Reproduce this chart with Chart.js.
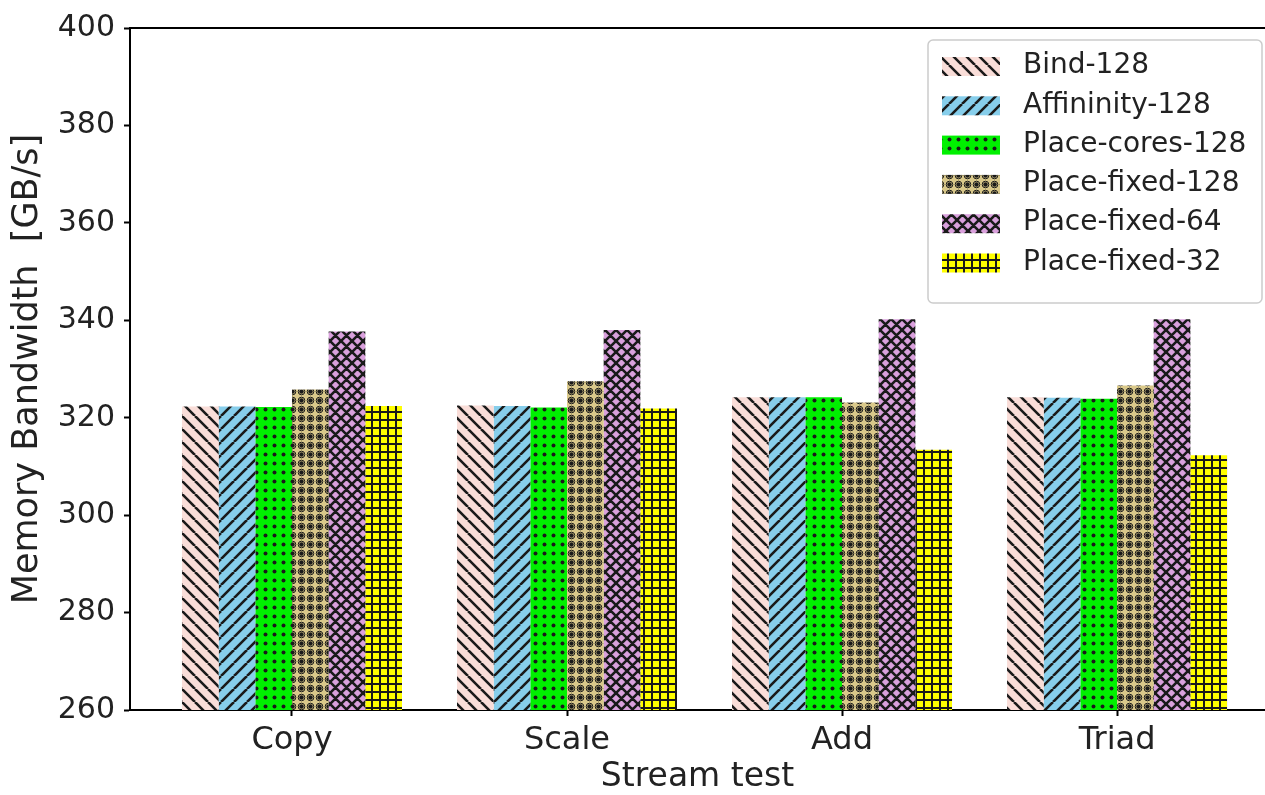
<!DOCTYPE html>
<html>
<head>
<meta charset="utf-8">
<script src="https://cdn.jsdelivr.net/npm/chart.js@4.4.1/dist/chart.umd.min.js"></script>
<style>
  html, body { margin: 0; padding: 0; background: #fff; overflow: hidden; }
  #wrap { width: 1265px; height: 795px; }
</style>
</head>
<body>
<div id="wrap"><canvas id="chart" width="1265" height="795"></canvas></div>
<script>
// ── data ───────────────────────────────────────────────────────
const categories = ['Copy', 'Scale', 'Add', 'Triad'];
const seriesLabels = ['Bind-128', 'Affininity-128', 'Place-cores-128', 'Place-fixed-128', 'Place-fixed-64', 'Place-fixed-32'];
const bind128 = [322.3, 322.5, 324.2, 324.2];
const affinity128 = [322.3, 322.4, 324.2, 324.1];
const placeCores128 = [322.2, 322.1, 324.2, 323.9];
const placeFixed128 = [325.8, 327.5, 323.1, 326.6];
const placeFixed64 = [337.7, 338.0, 340.2, 340.2];
const placeFixed32 = [322.4, 321.9, 313.4, 312.3];
const yTicks = [260, 280, 300, 320, 340, 360, 380, 400];

const FONT = 'DejaVu Sans';
const TEXT = '#222';

const canvas = document.getElementById('chart');
const ctx = canvas.getContext('2d');

// Build a repeating hatch fill like matplotlib's hatch styles
function makeHatch(bg, kind) {
  const sizes = { back: 13, fwd: 13, dot: 9, ring: 9, cross: 11, plus: 8 };
  const s = sizes[kind];
  const tile = document.createElement('canvas');
  tile.width = s;
  tile.height = s;
  const t = tile.getContext('2d');
  t.fillStyle = bg;
  t.fillRect(0, 0, s, s);
  t.strokeStyle = '#1a1a1a';
  t.fillStyle = '#1a1a1a';

  if (kind === 'back' || kind === 'fwd' || kind === 'cross') {
    t.lineWidth = kind === 'cross' ? 2.6 : 2.6;
    t.beginPath();
    [-s, 0, s].forEach((k) => {
      if (kind !== 'fwd') { t.moveTo(k, 0); t.lineTo(k + s, s); }
      if (kind !== 'back') { t.moveTo(k, s); t.lineTo(k + s, 0); }
    });
    t.stroke();
  } else if (kind === 'dot') {
    t.beginPath();
    t.arc(s / 2, s / 2, 2, 0, Math.PI * 2);
    t.fill();
  } else if (kind === 'ring') {
    t.lineWidth = 1;
    t.beginPath();
    t.arc(s / 2, s / 2, 3.3, 0, Math.PI * 2);
    t.stroke();
    t.beginPath();
    t.arc(s / 2, s / 2, 2.2, 0, Math.PI * 2);
    t.fill();
  } else if (kind === 'plus') {
    t.lineWidth = 2;
    t.beginPath();
    t.moveTo(0, s / 2); t.lineTo(s, s / 2);
    t.moveTo(s / 2, 0); t.lineTo(s / 2, s);
    t.stroke();
  }
  return ctx.createPattern(tile, 'repeat');
}

const fills = [
  makeHatch('#f9ddd8', 'back'),
  makeHatch('#87ceeb', 'fwd'),
  makeHatch('#00f000', 'dot'),
  makeHatch('#d9c88a', 'ring'),
  makeHatch('#d9a0dc', 'cross'),
  makeHatch('#ffff00', 'plus'),
];

const seriesValues = [bind128, affinity128, placeCores128, placeFixed128, placeFixed64, placeFixed32];

const datasets = seriesValues.map((vals, i) => ({
  label: seriesLabels[i],
  data: vals.map((v, j) => ({ x: j, y: v })),
  backgroundColor: fills[i],
  borderWidth: 0,
  categoryPercentage: 0.8,
  barPercentage: 1.0,
}));

// top spine + matplotlib-style legend box
const framePlugin = {
  id: 'frame',
  afterDraw(chart) {
    const { ctx: c, chartArea } = chart;
    c.save();
    c.strokeStyle = '#000';
    c.lineWidth = 2;
    c.beginPath();
    c.moveTo(chartArea.left - 1, chartArea.top);
    c.lineTo(chartArea.right, chartArea.top);
    c.stroke();

    const bx = 928, by = 40, bw = 334, bh = 263, r = 5;
    c.fillStyle = 'rgba(255,255,255,0.85)';
    c.strokeStyle = '#cccccc';
    c.lineWidth = 1.5;
    c.beginPath();
    c.roundRect(bx, by, bw, bh, r);
    c.fill();
    c.stroke();

    c.font = `28px "${FONT}"`;
    c.textBaseline = 'middle';
    c.textAlign = 'left';
    chart.data.datasets.forEach((ds, i) => {
      const cy = 66 + i * 39.3;
      c.fillStyle = ds.backgroundColor;
      c.fillRect(942, cy - 9, 58, 19);
      c.fillStyle = TEXT;
      c.fillText(ds.label, 1023, cy);
    });
    c.restore();
  },
};

new Chart(ctx, {
  type: 'bar',
  data: { datasets },
  options: {
    responsive: false,
    animation: false,
    layout: { padding: { top: 28, right: 0, left: 0, bottom: 0 } },
    scales: {
      x: {
        type: 'linear',
        offset: false,
        min: -0.589,
        max: 3.538,
        afterBuildTicks: (s) => { s.ticks = categories.map((_, i) => ({ value: i })); },
        afterFit: (s) => { s.height = 85; },
        ticks: {
          color: TEXT,
          padding: 5,
          font: { family: FONT, size: 32 },
          callback: (v) => categories[v],
        },
        grid: { offset: false, drawOnChartArea: false, tickLength: 6, tickWidth: 2, tickColor: '#000' },
        border: { color: '#000', width: 2 },
        title: {
          display: true,
          text: 'Stream test',
          color: TEXT,
          font: { family: FONT, size: 33, lineHeight: 1 },
          padding: { top: 0, bottom: 1 },
        },
      },
      y: {
        min: 260,
        max: 400,
        afterBuildTicks: (s) => { s.ticks = yTicks.map((v) => ({ value: v })); },
        afterFit: (s) => { s.width = 130; },
        ticks: {
          color: TEXT,
          padding: 9,
          font: { family: FONT, size: 30 },
        },
        grid: { drawOnChartArea: false, tickLength: 6, tickWidth: 2, tickColor: '#000' },
        border: { color: '#000', width: 2 },
        title: {
          display: true,
          text: 'Memory Bandwidth  [GB/s]',
          color: TEXT,
          font: { family: FONT, size: 35, lineHeight: 1 },
          padding: { top: 10, bottom: 0 },
        },
      },
    },
    plugins: {
      legend: { display: false },
      tooltip: { enabled: false },
    },
  },
  plugins: [framePlugin],
});
</script>
</body>
</html>
